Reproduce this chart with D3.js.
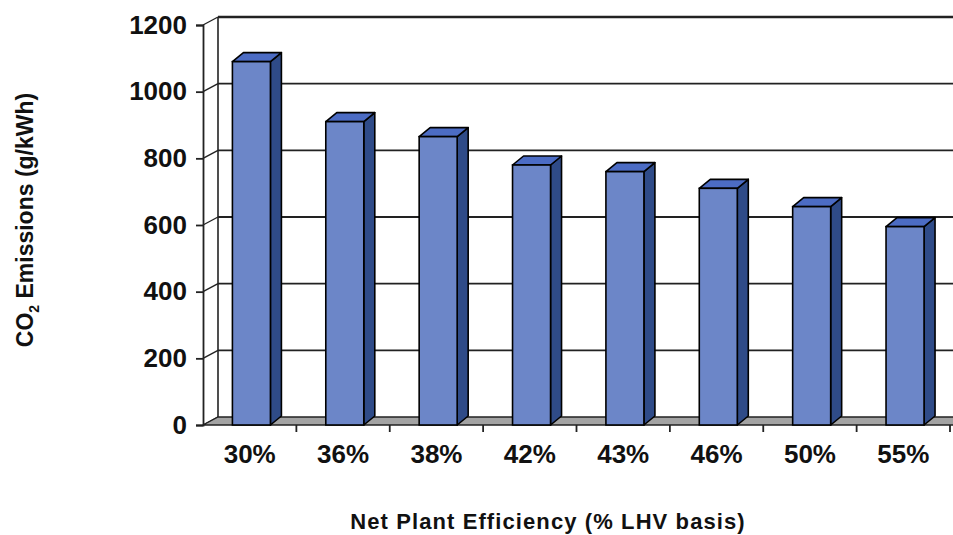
<!DOCTYPE html>
<html>
<head>
<meta charset="utf-8">
<script src="https://cdn.jsdelivr.net/npm/d3@7"></script>
<style>
  html, body { margin: 0; padding: 0; background: #fff; }
  svg { display: block; font-family: "Liberation Sans", Arial, sans-serif; }
</style>
</head>
<body>
<svg id="chart" width="953" height="535"></svg>
<script>
// Net plant efficiency categories and CO2 emissions (g/kWh)
const categories = ["30%", "36%", "38%", "42%", "43%", "46%", "50%", "55%"];
const emissions = [1090, 910, 865, 780, 760, 710, 655, 595];
const yTicks = [0, 200, 400, 600, 800, 1000, 1200];

const svg = d3.select("#chart");

// Front plane of the 3-D plot area
const x = d3.scaleBand().domain(categories).range([203, 950]);
const y = d3.scaleLinear().domain([0, 1200]).range([425, 25]);

// Depth offsets: walls and bars
const wallDx = 15, wallDy = -8;
const barDx = 11, barDy = -9;

const colFront = "#6c86c8", colSide = "#2f4b88", colTop = "#4c6cc4";
const gridCol = "#222";

// Back wall gridlines
const back = svg.append("g");
back.selectAll("line.grid").data(yTicks.filter(d => d > 0)).join("line")
  .attr("x1", 203 + wallDx).attr("x2", 960)
  .attr("y1", d => y(d) + wallDy).attr("y2", d => y(d) + wallDy)
  .attr("stroke", gridCol).attr("stroke-width", d => d === 1200 ? 2.6 : 1.8);

// Side wall: edges and oblique gridlines
back.append("line")
  .attr("x1", 203 + wallDx).attr("x2", 203 + wallDx)
  .attr("y1", y(1200) + wallDy).attr("y2", y(0) + wallDy)
  .attr("stroke", gridCol).attr("stroke-width", 1.6);
back.selectAll("line.side").data(yTicks).join("line")
  .attr("x1", 203).attr("x2", 203 + wallDx)
  .attr("y1", d => y(d)).attr("y2", d => y(d) + wallDy)
  .attr("stroke", gridCol).attr("stroke-width", 1.4);

// Floor
back.append("polygon")
  .attr("points", [[203, y(0)], [960, y(0)], [960 + wallDx, y(0) + wallDy], [203 + wallDx, y(0) + wallDy]].map(p => p.join(",")).join(" "))
  .attr("fill", "#a3a3a3").attr("stroke", "#222").attr("stroke-width", 1.4);

// Front value axis
const axisG = svg.append("g").attr("transform", "translate(203,0)");
axisG.call(d3.axisLeft(y).tickValues(yTicks).tickSize(7).tickPadding(9).tickFormat(d3.format("d")));
axisG.select(".domain").attr("stroke", gridCol).attr("stroke-width", 1.8);
axisG.selectAll(".tick line").attr("stroke", gridCol).attr("stroke-width", 1.8);
axisG.selectAll(".tick text")
  .attr("font-family", "Liberation Sans, Arial, sans-serif")
  .attr("font-size", 26).attr("font-weight", "bold").attr("fill", "#111");

// Category axis along the floor front edge
const xAxisG = svg.append("g").attr("transform", `translate(0,${y(0)})`);
xAxisG.call(d3.axisBottom(x).tickSize(0).tickPadding(20));
xAxisG.select(".domain").remove();
xAxisG.selectAll(".tick text")
  .attr("font-family", "Liberation Sans, Arial, sans-serif")
  .attr("font-size", 26).attr("font-weight", "bold").attr("fill", "#111");
// Category separator ticks
svg.append("g").selectAll("line").data(categories).join("line")
  .attr("x1", d => x(d) + x.bandwidth())
  .attr("x2", d => x(d) + x.bandwidth())
  .attr("y1", y(0)).attr("y2", y(0) + 7)
  .attr("stroke", gridCol).attr("stroke-width", 1.8);

// 3-D bars
const bw = x.bandwidth();
const bars = svg.append("g").selectAll("g").data(categories.map((c, i) => ({ c, v: emissions[i] }))).join("g");
const fx0 = d => x(d.c) + 0.315 * bw;
const fx1 = d => x(d.c) + 0.315 * bw + 0.407 * bw;
const pts = arr => arr.map(p => p.join(",")).join(" ");

bars.append("polygon")
  .attr("points", d => pts([[fx1(d), y(d.v)], [fx1(d) + barDx, y(d.v) + barDy], [fx1(d) + barDx, y(0) + barDy], [fx1(d), y(0)]]))
  .attr("fill", colSide).attr("stroke", "#000").attr("stroke-width", 1.6).attr("stroke-linejoin", "round");
bars.append("polygon")
  .attr("points", d => pts([[fx0(d), y(d.v)], [fx0(d) + barDx, y(d.v) + barDy], [fx1(d) + barDx, y(d.v) + barDy], [fx1(d), y(d.v)]]))
  .attr("fill", colTop).attr("stroke", "#000").attr("stroke-width", 1.6).attr("stroke-linejoin", "round");
bars.append("rect")
  .attr("x", fx0).attr("width", d => fx1(d) - fx0(d))
  .attr("y", d => y(d.v)).attr("height", d => y(0) - y(d.v))
  .attr("fill", colFront).attr("stroke", "#000").attr("stroke-width", 1.6);

// Axis titles
svg.append("text")
  .attr("x", 548).attr("y", 529).attr("text-anchor", "middle")
  .attr("font-size", 22).attr("font-weight", "bold").attr("fill", "#111")
  .attr("letter-spacing", 1.1)
  .text("Net Plant Efficiency (% LHV basis)");

const yt = svg.append("text")
  .attr("transform", "translate(33,220) rotate(-90)")
  .attr("text-anchor", "middle")
  .attr("font-size", 23).attr("font-weight", "bold").attr("fill", "#111");
yt.append("tspan").text("CO");
yt.append("tspan").attr("font-size", 14).attr("dy", 6).text("2");
yt.append("tspan").attr("dy", -6).text(" Emissions (g/kWh)");
</script>
</body>
</html>
